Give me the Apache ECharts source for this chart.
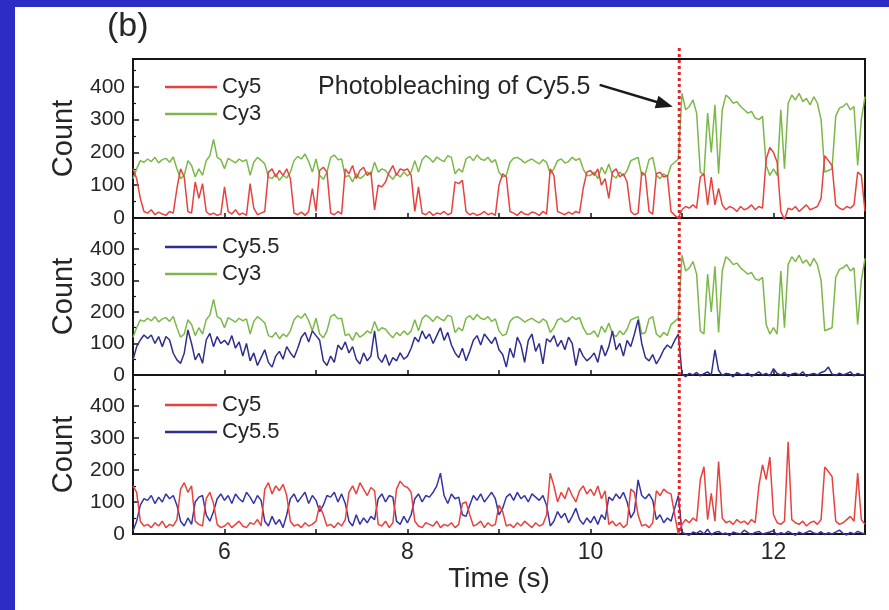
<!DOCTYPE html>
<html><head><meta charset="utf-8">
<script src="https://cdn.jsdelivr.net/npm/echarts@6/dist/echarts.min.js"></script>
<style>
html,body{margin:0;padding:0;background:#2c2dc4;}
#wrap{position:relative;width:889px;height:610px;overflow:hidden;background:#2c2dc4}
#paper{position:absolute;left:15px;top:7px;right:0;bottom:0;background:#fff}
#chart{position:absolute;left:0;top:0;width:889px;height:610px}
</style></head><body><div id="wrap"><div id="paper"></div><div id="chart"></div></div>
<script>
// sampling: 5.00 s to 13.00 s every 0.04 s (201 samples)
const tStart = 5, tStep = 0.04, nSamples = 201;
const xTicks = [6, 8, 10, 12];
const yTicks = [0, 100, 200, 300, 400];
const bleachTime = 10.97;

// Panel (top): Cy5
const cy5Top = [
150,120,60,20,15,25,10,18,12,8,20,15,90,150,125,20,15,110,60,105,20,10,15,8,12,
95,20,12,25,10,15,8,105,30,10,15,20,140,150,125,145,130,150,120,15,10,18,8,20,90,
20,145,155,140,15,10,20,12,150,135,160,120,145,155,130,140,25,100,95,110,140,160,130,150,145,
150,130,20,95,15,10,20,8,15,12,20,10,15,110,105,115,20,10,15,8,12,20,10,15,8,
100,135,125,20,15,8,20,12,10,18,15,8,20,12,150,130,20,15,10,18,12,20,15,90,140,
145,130,150,100,120,60,140,150,125,135,110,20,10,15,140,130,20,12,135,140,125,130,20,8,0,
25,35,30,40,30,125,135,40,125,40,90,40,25,35,30,20,35,25,30,40,25,35,30,180,215,
200,170,20,-5,30,25,35,20,30,40,25,30,35,60,190,175,160,40,30,25,35,30,40,140,130,20
];
// Cy3 (shown in top and middle panels)
const cy3 = [
120,150,175,170,180,172,185,168,178,182,170,186,150,120,130,175,160,125,150,130,175,190,240,185,178,
150,182,175,168,180,172,178,130,170,185,176,165,125,120,135,115,130,122,140,175,188,180,195,172,140,
180,130,118,140,185,192,178,180,125,130,110,135,120,128,140,132,170,140,150,145,130,118,135,125,140,
128,140,175,140,178,190,182,170,186,178,172,190,185,135,150,140,180,188,175,192,180,176,185,170,178,
140,125,130,170,182,185,178,168,175,180,172,165,178,170,135,150,175,180,168,172,185,176,182,150,130,
130,140,120,155,135,165,130,122,140,128,145,175,180,185,130,135,178,185,130,120,135,125,160,170,180,
380,330,340,360,320,140,130,320,200,345,135,330,375,365,350,355,340,330,320,325,305,300,310,160,130,
150,130,330,150,350,375,360,380,355,365,345,370,350,300,140,145,150,310,335,340,350,330,340,160,300,370
];
// Panel (middle): Cy5.5
const cy55Mid = [
48,90,111,127,116,127,100,122,90,122,111,69,48,37,69,143,100,48,69,37,111,132,90,122,100,
110,95,125,85,105,60,100,45,70,30,55,80,40,25,60,75,50,90,70,55,85,120,135,105,140,
125,110,45,30,60,40,95,80,105,70,90,50,35,70,45,60,140,55,40,65,30,55,45,70,50,
60,85,120,105,140,115,130,100,125,150,110,135,95,70,55,85,45,75,110,125,95,130,115,100,120,
80,65,25,85,55,120,95,40,110,130,75,100,35,115,105,125,90,110,80,120,100,30,85,60,45,
55,70,40,95,60,90,140,80,100,60,110,90,130,175,100,55,45,65,35,55,80,95,85,110,130,
2,-5,5,0,8,-3,4,10,0,80,15,-2,5,3,-6,8,2,0,6,-4,3,10,0,5,-3,
20,5,0,8,-5,3,6,0,10,-4,2,5,0,8,12,25,3,-2,6,0,4,10,-3,5,0,2
];
// Panel (bottom): Cy5
const cy5Bot = [
150,130,40,25,30,20,35,25,40,20,30,25,45,140,160,130,150,40,30,25,110,130,95,30,20,
25,35,20,30,40,25,20,35,30,45,25,140,160,125,150,135,155,120,40,25,30,20,35,25,30,
40,90,60,25,30,20,35,25,45,130,150,125,160,140,120,145,135,30,25,40,20,35,140,165,150,
145,130,40,25,20,35,30,25,40,20,30,25,35,20,30,95,100,60,25,30,40,20,35,25,30,
90,70,25,30,20,35,25,40,30,20,35,25,30,60,190,150,100,130,110,145,120,100,135,150,125,
140,120,150,110,135,30,40,25,35,20,30,140,130,60,25,30,20,35,135,120,140,130,125,60,0,
30,45,35,50,40,170,210,45,127,40,226,50,35,40,30,45,35,40,30,45,35,150,216,170,240,
60,35,30,40,288,45,35,30,40,25,35,40,30,45,209,195,179,40,30,35,45,55,40,190,45,30
];
// Panel (bottom): Cy5.5
const cy55Bot = [
10,40,90,110,105,120,95,115,100,125,110,120,90,40,25,50,30,100,115,120,60,40,70,110,125,
105,120,95,125,110,100,130,115,95,120,105,40,25,55,30,45,20,60,110,125,100,115,130,95,120,
105,70,90,120,115,130,100,125,95,40,25,60,30,50,35,55,45,110,125,100,120,115,40,30,55,
35,60,110,125,100,120,115,130,150,190,120,95,125,110,115,60,55,90,120,105,125,100,115,130,110,
60,80,115,125,105,130,110,120,100,125,115,105,120,90,25,40,70,50,65,35,55,80,45,30,50,
35,55,30,60,45,115,105,125,110,130,100,50,70,169,120,110,125,105,45,60,35,50,40,80,120,
5,0,-4,6,2,10,0,15,-3,5,8,0,3,-5,6,2,0,12,4,-2,5,8,0,3,6,
10,-3,4,0,8,2,-4,6,0,5,10,3,0,7,-2,4,0,6,12,2,-3,5,0,8,3,0
];
// annotation anchor points (data coords of top panel)
const annoText = [10.0, 400];
const arrowFrom = [10.1, 406];
const arrowTo = [10.9, 339];

const times = Array.from({length: nSamples}, (_, i) => +(tStart + tStep * i).toFixed(2));
const pairs = arr => times.map((t, i) => [t, arr[i]]);

const FONT = '"Liberation Sans", Arial, sans-serif';
const TXT = '#262626';
const RED = '#e8423f', GREEN = '#7cb848', BLUE = '#2e2e8e', BLUE2 = '#3434a6';

const gridDefs = [{top: 59, height: 159}, {top: 218, height: 157}, {top: 375, height: 159}];
const yMax = [485, 498, 496];

const chart = echarts.init(document.getElementById('chart'), null, {renderer: 'canvas'});

const grids = gridDefs.map(g => ({left: 133, right: 24, top: g.top, height: g.height,
  show: true, borderColor: '#151515', borderWidth: 2, backgroundColor: 'transparent'}));

const xAxes = [0, 1, 2].map(gi => ({
  type: 'value', gridIndex: gi, min: 5, max: 13, interval: 1,
  axisLine: {show: true, onZero: false, lineStyle: {color: '#151515', width: 2}},
  axisTick: {show: true, inside: true, length: 5, lineStyle: {color: '#151515', width: 1.5}},
  splitLine: {show: false},
  axisLabel: {show: gi === 2, fontSize: 23, color: TXT, fontFamily: FONT, margin: 7,
    formatter: v => xTicks.includes(v) ? String(v) : ''},
  name: gi === 2 ? 'Time (s)' : '', nameLocation: 'middle', nameGap: 30,
  nameTextStyle: {fontSize: 28, color: TXT, fontFamily: FONT}
}));

const yAxes = [0, 1, 2].map(gi => ({
  type: 'value', gridIndex: gi, min: 0, max: yMax[gi], interval: 100,
  axisLine: {show: true, onZero: false, lineStyle: {color: '#151515', width: 2}},
  axisTick: {show: true, inside: true, length: 6, lineStyle: {color: '#151515', width: 1.5}},
  minorTick: {show: true, splitNumber: 2, length: 3, lineStyle: {color: '#151515', width: 1.2}},
  splitLine: {show: false},
  axisLabel: {fontSize: 21, color: TXT, fontFamily: FONT, margin: 8,
    formatter: v => yTicks.includes(v) ? String(v) : ''},
  name: 'Count', nameLocation: 'middle', nameGap: 55,
  nameTextStyle: {fontSize: 29, color: TXT, fontFamily: FONT}
}));

const mk = (name, data, gi, color) => ({
  name, type: 'line', xAxisIndex: gi, yAxisIndex: gi, data: pairs(data),
  symbol: 'none', showSymbol: false, clip: false, animation: false,
  lineStyle: {color, width: 1.5}, itemStyle: {color}
});

const series = [
  mk('Cy3', cy3, 0, GREEN),
  mk('Cy5', cy5Top, 0, RED),
  mk('Cy3', cy3, 1, GREEN),
  mk('Cy5.5', cy55Mid, 1, BLUE),
  mk('Cy5.5', cy55Bot, 2, BLUE2),
  mk('Cy5', cy5Bot, 2, RED)
];

const legendBase = {orient: 'vertical', left: 160, icon: 'rect', itemWidth: 52, itemHeight: 2.5, itemGap: 5,
  textStyle: {fontSize: 22, color: TXT, fontFamily: FONT, lineHeight: 22}, selectedMode: false};
const legends = [
  Object.assign({}, legendBase, {top: 71, data: ['Cy5', 'Cy3']}),
  Object.assign({}, legendBase, {top: 231, data: ['Cy5.5', 'Cy3']}),
  Object.assign({}, legendBase, {top: 389, data: ['Cy5', 'Cy5.5']})
];

chart.setOption({
  backgroundColor: 'transparent', animation: false,
  grid: grids, xAxis: xAxes, yAxis: yAxes, legend: legends, series
});

// annotations placed from data coordinates
const px = (gi, p) => chart.convertToPixel({gridIndex: gi}, p);
const bx = px(0, [bleachTime, 0])[0];
const yTop = px(0, [bleachTime, yMax[0]])[1] - 11;
const yBot = px(2, [bleachTime, 0])[1];
const tp = px(0, annoText), a0 = px(0, arrowFrom), a1 = px(0, arrowTo);
const dx = a1[0] - a0[0], dy = a1[1] - a0[1], len = Math.hypot(dx, dy);
const ux = dx / len, uy = dy / len, hl = 17, hw = 6.5;
const base = [a1[0] - ux * hl, a1[1] - uy * hl];
const head = [a1, [base[0] - uy * hw, base[1] + ux * hw], [base[0] + uy * hw, base[1] - ux * hw]];

chart.setOption({graphic: [
  {type: 'line', z: 100, shape: {x1: bx, y1: yTop, x2: bx, y2: yBot},
   style: {stroke: '#d42a2a', lineWidth: 3, lineDash: [3, 3]}},
  {type: 'text', z: 100, style: {text: 'Photobleaching of Cy5.5', x: tp[0], y: tp[1],
   align: 'right', verticalAlign: 'middle', fontSize: 25, fontFamily: FONT, fill: TXT}},
  {type: 'line', z: 100, shape: {x1: a0[0], y1: a0[1], x2: base[0] + ux * 2, y2: base[1] + uy * 2},
   style: {stroke: '#1a1a1a', lineWidth: 2.5}},
  {type: 'polygon', z: 100, shape: {points: head}, style: {fill: '#1a1a1a'}},
  {type: 'text', z: 100, style: {text: '(b)', x: 107, y: 27, align: 'left', verticalAlign: 'middle',
   fontSize: 34, fontFamily: FONT, fill: TXT}}
]});
</script></body></html>
